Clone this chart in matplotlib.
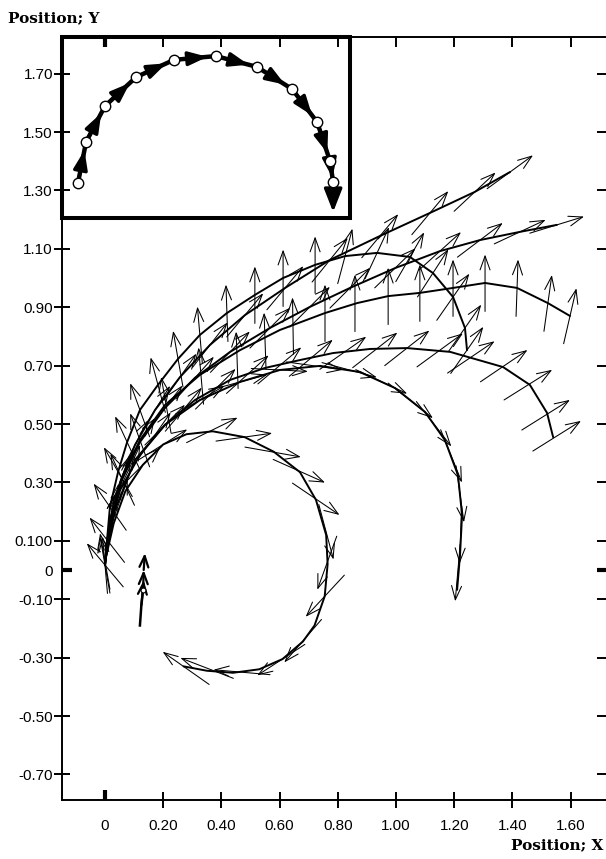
import numpy as np
import matplotlib.pyplot as plt
import matplotlib.lines as mlines
from matplotlib.patches import Rectangle

plt.rcParams['font.family'] = ['Liberation Sans', 'DejaVu Sans']

# ---- trajectories (data units) ----
spiral_x = [0.0, 0.03, 0.07, 0.13, 0.2, 0.28, 0.37, 0.48, 0.58, 0.67, 0.725, 0.76, 0.765, 0.755, 0.72, 0.68, 0.61, 0.53, 0.44, 0.35, 0.27]
spiral_y = [0.03, 0.16, 0.27, 0.36, 0.43, 0.465, 0.475, 0.455, 0.405, 0.335, 0.24, 0.12, 0.02, -0.09, -0.19, -0.245, -0.305, -0.34, -0.352, -0.345, -0.33]
spiral_ax = [0.0, 0.045, 0.12, 0.2, 0.368, 0.478, 0.577, 0.667, 0.725, 0.76, 0.763, 0.756, 0.68, 0.605, 0.47, 0.35, 0.278]
spiral_ay = [0.03, 0.22, 0.35, 0.43, 0.479, 0.455, 0.404, 0.339, 0.243, 0.13, 0.024, -0.089, -0.243, -0.308, -0.35, -0.336, -0.336]
spiral_ang = [100, 70, 45, 32, 26, 8, -10, -24, -34, -75, -110, -133, -131, -147, 175, 159, 145]

arcB_x = [0.0, 0.034, 0.103, 0.206, 0.326, 0.464, 0.601, 0.739, 0.876, 0.997, 1.10, 1.168, 1.213, 1.227, 1.22, 1.21]
arcB_y = [0.03, 0.205, 0.377, 0.497, 0.582, 0.644, 0.685, 0.699, 0.678, 0.623, 0.541, 0.445, 0.325, 0.188, 0.051, -0.068]
arcB_ax = [0.206, 0.326, 0.464, 0.6, 0.72, 0.84, 0.95, 1.05, 1.13, 1.19, 1.22, 1.222, 1.212]
arcB_ay = [0.497, 0.582, 0.644, 0.685, 0.699, 0.685, 0.645, 0.58, 0.5, 0.39, 0.26, 0.12, -0.01]
arcB_ang = [45, 30, 15, -3, -8, -15, -25, -38, -52, -68, -82, -92, -95]

arc5_x = [0.0, 0.017, 0.052, 0.12, 0.206, 0.309, 0.43, 0.55, 0.67, 0.784, 0.911, 1.038, 1.186, 1.368, 1.46, 1.519, 1.54]
arc5_y = [0.017, 0.154, 0.274, 0.394, 0.497, 0.582, 0.651, 0.692, 0.719, 0.743, 0.757, 0.76, 0.747, 0.695, 0.634, 0.538, 0.455]
arc5_ax = [0.03, 0.08, 0.17, 0.27, 0.38, 0.49, 0.6, 0.708, 0.818, 0.928, 1.038, 1.151, 1.258, 1.371, 1.454, 1.515, 1.553]
arc5_ay = [0.2, 0.34, 0.46, 0.55, 0.62, 0.67, 0.70, 0.726, 0.743, 0.753, 0.76, 0.753, 0.729, 0.699, 0.634, 0.531, 0.459]
arc5_ang = [80, 65, 55, 50, 45, 42, 40, 40, 35, 38, 38, 36, 34, 34, 32, 32, 32]

arc3_x = [0.0, 0.017, 0.058, 0.12, 0.206, 0.326, 0.464, 0.601, 0.756, 0.866, 0.973, 1.082, 1.196, 1.306, 1.416, 1.522, 1.598]
arc3_y = [0.017, 0.171, 0.315, 0.445, 0.565, 0.668, 0.753, 0.822, 0.88, 0.914, 0.938, 0.949, 0.966, 0.983, 0.966, 0.914, 0.87]
arc3_ax = [0.06, 0.12, 0.21, 0.33, 0.454, 0.55, 0.646, 0.756, 0.859, 0.973, 1.082, 1.196, 1.306, 1.416, 1.522, 1.598]
arc3_ay = [0.31, 0.445, 0.565, 0.665, 0.719, 0.784, 0.836, 0.88, 0.914, 0.938, 0.949, 0.966, 0.983, 0.966, 0.914, 0.87]
arc3_ang = [115, 110, 100, 95, 92, 92, 91, 90, 90, 90, 90, 90, 90, 88, 82, 77]

arc4_x = [0.0, 0.007, 0.017, 0.045, 0.076, 0.12, 0.182, 0.251, 0.326, 0.419, 0.515, 0.612, 0.722, 0.825, 0.935, 1.048, 1.127, 1.196, 1.237, 1.244]
arc4_y = [0.017, 0.103, 0.216, 0.336, 0.438, 0.548, 0.634, 0.723, 0.805, 0.88, 0.942, 1.0, 1.045, 1.075, 1.086, 1.072, 1.017, 0.935, 0.829, 0.753]
arc4_ang = [130, 128, 125, 120, 115, 110, 105, 100, 95, 92, 90, 90, 90, 75, 65, 60, 57, 55, 55, 55]

arc6_x = [0.0, 0.017, 0.052, 0.103, 0.172, 0.258, 0.361, 0.481, 0.619, 0.773, 0.945, 1.117, 1.271, 1.392]
arc6_y = [0.017, 0.164, 0.301, 0.428, 0.548, 0.661, 0.771, 0.873, 0.966, 1.062, 1.144, 1.223, 1.295, 1.363]
arc6_ang = [100, 80, 70, 62, 58, 55, 52, 50, 50, 51, 50, 50, 43, 36]

arc7_x = [0.0, 0.017, 0.058, 0.12, 0.206, 0.309, 0.43, 0.567, 0.704, 0.842, 0.997, 1.151, 1.289, 1.426, 1.553]
arc7_y = [0.017, 0.164, 0.308, 0.438, 0.555, 0.658, 0.747, 0.829, 0.901, 0.966, 1.034, 1.092, 1.13, 1.158, 1.182]
arc7_ang = [95, 80, 65, 58, 52, 48, 46, 45, 45, 45, 44, 42, 37, 25, 17]

# short track near the origin
short_x = [0.12, 0.125, 0.131, 0.133, 0.137]
short_y = [-0.19, -0.12, -0.068, 0.0, 0.058]

# inset: circular track
ring_x = [-0.093, -0.065, 0.0, 0.107, 0.237, 0.381, 0.522, 0.643, 0.729, 0.773, 0.784]
ring_y = [1.325, 1.466, 1.589, 1.688, 1.747, 1.760, 1.723, 1.647, 1.534, 1.401, 1.329]
ring_end = (0.784, 1.226)

xticks = [0, 0.2, 0.4, 0.6, 0.8, 1.0, 1.2, 1.4, 1.6]
xlabels = ['0', '0.20', '0.40', '0.60', '0.80', '1.00', '1.20', '1.40', '1.60']
yticks = [-0.7, -0.5, -0.3, -0.1, 0, 0.1, 0.3, 0.5, 0.7, 0.9, 1.1, 1.3, 1.5, 1.7]
ylabels = ['-0.70', '-0.50', '-0.30', '-0.10', '0', '0.100', '0.30', '0.50', '0.70',
           '0.90', '1.10', '1.30', '1.50', '1.70']

ARROW_LEN = 0.195


def draw_arrows(ax, xs, ys, angs):
    for x, y, a in zip(xs, ys, angs):
        dx = np.cos(np.radians(a)) * ARROW_LEN / 2
        dy = np.sin(np.radians(a)) * ARROW_LEN / 2
        ax.annotate('', xy=(x + dx, y + dy), xytext=(x - dx, y - dy),
                    arrowprops=dict(arrowstyle='->,head_length=1.0,head_width=0.36',
                                    lw=0.75, color='k', shrinkA=0, shrinkB=0))


fig = plt.figure(figsize=(6.06, 8.59), dpi=100)
ax = fig.add_axes([62 / 606, 1 - 800 / 859, (607 - 62) / 606, (800 - 37) / 859])
ax.set_xlim((62 - 105) / 291, (607 - 105) / 291)
ax.set_ylim(-(800 - 570) / 292, (570 - 37) / 292)

# curves
for xs, ys in [(spiral_x, spiral_y), (arcB_x, arcB_y), (arc5_x, arc5_y), (arc3_x, arc3_y),
               (arc4_x, arc4_y), (arc6_x, arc6_y), (arc7_x, arc7_y)]:
    ax.plot(xs, ys, color='k', lw=1.4, solid_capstyle='round')

draw_arrows(ax, spiral_ax, spiral_ay, spiral_ang)
draw_arrows(ax, arcB_ax, arcB_ay, arcB_ang)
draw_arrows(ax, arc5_ax, arc5_ay, arc5_ang)
draw_arrows(ax, arc3_ax, arc3_ay, arc3_ang)
draw_arrows(ax, arc4_x, arc4_y, arc4_ang)
draw_arrows(ax, arc6_x, arc6_y, arc6_ang)
draw_arrows(ax, arc7_x, arc7_y, arc7_ang)

# short track with stacked heads
ax.plot(short_x[:3], short_y[:3], color='k', lw=1.8)
for i in range(2, 5):
    ax.annotate('', xy=(short_x[i], short_y[i]) if i > 2 else (short_x[3], short_y[3] - 0.035),
                xytext=(short_x[i - 1], short_y[i - 1]),
                arrowprops=dict(arrowstyle='->,head_length=0.8,head_width=0.32',
                                lw=1.6, color='k', shrinkA=0, shrinkB=0))
ax.plot(short_x[2], short_y[2], 'o', ms=3.5, mfc='white', mec='k', mew=0.8, zorder=5)

# inset box in data coords
x0, x1 = ax.get_xlim()
y0, y1 = ax.get_ylim()
box = Rectangle((x0, 1.207), 0.842 - x0, y1 - 1.207, facecolor='white', edgecolor='k',
                lw=2.9, zorder=1.5, clip_on=False)
ax.add_patch(box)
ax.plot(ring_x + [ring_end[0]], ring_y + [ring_end[1] + 0.03], color='k', lw=3.2, zorder=1.7)
for i in range(len(ring_x) - 1):
    xa, ya = ring_x[i], ring_y[i]
    xb, yb = ring_x[i + 1], ring_y[i + 1]
    ax.annotate('', xy=(xa + 0.8 * (xb - xa), ya + 0.8 * (yb - ya)), xytext=(xa, ya),
                arrowprops=dict(arrowstyle='-|>,head_length=1.15,head_width=0.42',
                                mutation_scale=10, lw=2.4, color='k', shrinkA=0, shrinkB=0),
                zorder=1.8)
ax.annotate('', xy=ring_end, xytext=(ring_x[-1], ring_y[-1]),
            arrowprops=dict(arrowstyle='-|>,head_length=1.4,head_width=0.55',
                            mutation_scale=10, lw=2.4, color='k', shrinkA=0, shrinkB=0),
            zorder=1.8)
ax.plot(ring_x, ring_y, 'o', ms=7.5, mfc='white', mec='k', mew=1.0, zorder=1.9)

# axes styling
for side in ['left', 'bottom', 'top', 'right']:
    ax.spines[side].set_linewidth(1.4)
ax.set_xticks(xticks)
ax.set_xticklabels(xlabels)
ax.set_yticks(yticks)
ax.set_yticklabels(ylabels)
ax.tick_params(direction='inout', length=11, width=1.4, top=True, right=True,
               labelsize=11)
ax.tick_params(axis='y', pad=1)
ax.tick_params(axis='x', pad=8)

gray = '#707070'
for v, t in zip(xticks, ax.xaxis.get_major_ticks()):
    t.tick2line.set_marker(mlines.TICKDOWN)
    t.tick2line.set_markersize(7)
    if v == 0:
        for ln, mk in [(t.tick1line, mlines.TICKUP), (t.tick2line, mlines.TICKDOWN)]:
            ln.set_marker(mk)
            ln.set_markersize(7)
            ln.set_color(gray)
            ln.set_markeredgewidth(3)
for v, t in zip(yticks, ax.yaxis.get_major_ticks()):
    t.tick2line.set_marker(mlines.TICKLEFT)
    t.tick2line.set_markersize(7)
    if v == 0:
        for ln, mk in [(t.tick1line, mlines.TICKRIGHT), (t.tick2line, mlines.TICKLEFT)]:
            ln.set_marker(mk)
            ln.set_markersize(7)
            ln.set_color(gray)
            ln.set_markeredgewidth(3)

fig.text(8 / 606, 1 - 18 / 859, 'Position; Y', family=['DejaVu Serif'], fontweight='bold',
         fontsize=11, va='center', ha='left')
fig.text(603 / 606, 1 - 845 / 859, 'Position; X', family=['DejaVu Serif'], fontweight='bold',
         fontsize=11, va='center', ha='right')

fig.savefig('out.png', dpi=100)
